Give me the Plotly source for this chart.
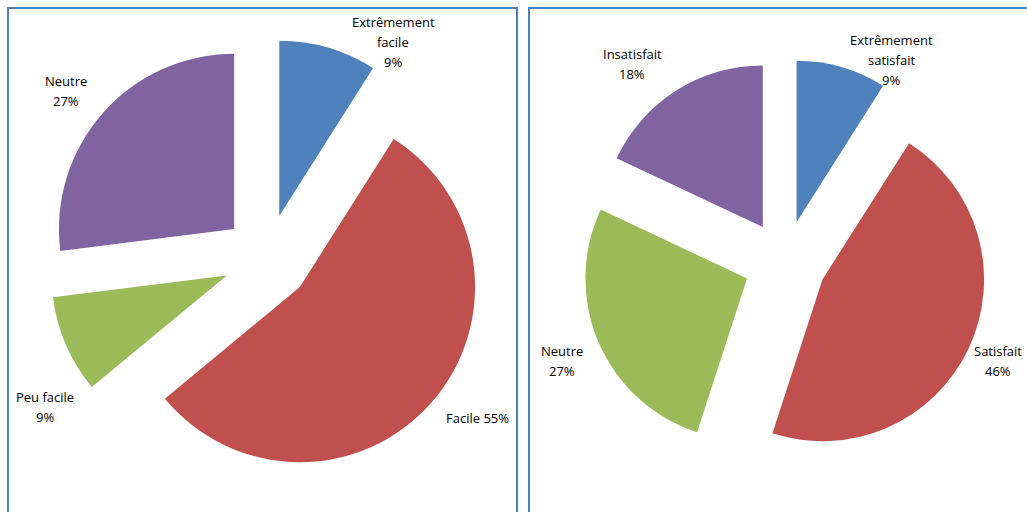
import plotly.graph_objects as go

W, H = 1027, 512
OFF = 0

# ---- data ----
left_labels = ["Extrêmement facile", "Facile", "Peu facile", "Neutre"]
left_values = [9, 55, 9, 27]
right_labels = ["Extrêmement satisfait", "Satisfait", "Neutre", "Insatisfait"]
right_values = [9, 46, 27, 18]
colors = ["#4F81BD", "#C0504D", "#9BBB59", "#8064A2"]

# label text lines (label words) and their pixel centres (first line)
left_label_lines = [["Extrêmement", "facile"], [], ["Peu facile"], ["Neutre"]]
right_label_lines = [["Extrêmement", "satisfait"], ["Satisfait"], ["Neutre"], ["Insatisfait"]]
left_label_pos = [(393, 22), (477, 418), (45, 397), (66, 81)]
right_label_pos = [(891, 40), (998, 351), (562, 351), (632, 54)]
LINE = 20


def px(x):
    return (x - OFF) / W


def py(y):
    return 1 - (y - OFF) / H


fig = go.Figure()
fig.add_trace(go.Pie(
    labels=left_labels, values=left_values, sort=False, direction="clockwise",
    rotation=0, pull=0.25, textinfo="none", hoverinfo="label+percent",
    marker=dict(colors=colors, line=dict(width=0)),
    domain=dict(x=[px(48), px(486)], y=[py(477), py(39)]),
    showlegend=False,
))
fig.add_trace(go.Pie(
    labels=right_labels, values=right_values, sort=False, direction="clockwise",
    rotation=0, pull=0.256, textinfo="none", hoverinfo="label+percent",
    marker=dict(colors=colors, line=dict(width=0)),
    domain=dict(x=[px(582), px(988)], y=[py(465), py(59)]),
    showlegend=False,
))

annotations = []
font = dict(family="Open Sans, DejaVu Sans, sans-serif", size=13, color="#000000")


def add_labels(lines_list, values, positions, labels):
    for lines, v, (x, y), lab in zip(lines_list, values, positions, labels):
        pct = f"{v}%"
        if not lines:  # single line "Label NN%"
            annotations.append(dict(x=px(x), y=py(y), xref="paper", yref="paper",
                                    text=f"{lab} {pct}", showarrow=False, font=font,
                                    xanchor="center", yanchor="middle"))
            continue
        for i, t in enumerate(lines + [pct]):
            annotations.append(dict(x=px(x), y=py(y + i * LINE), xref="paper", yref="paper",
                                    text=t, showarrow=False, font=font,
                                    xanchor="center", yanchor="middle"))


add_labels(left_label_lines, left_values, left_label_pos, left_labels)
add_labels(right_label_lines, right_values, right_label_pos, right_labels)

border = "#4F81BD"
shapes = [
    dict(type="rect", xref="paper", yref="paper", x0=px(8), x1=px(517), y0=py(540), y1=py(8),
         line=dict(color=border, width=2)),
    dict(type="rect", xref="paper", yref="paper", x0=px(529), x1=px(1060), y0=py(540), y1=py(8),
         line=dict(color=border, width=2)),
]

fig.update_layout(
    width=W, height=H, margin=dict(l=0, r=0, t=0, b=0),
    paper_bgcolor="white", plot_bgcolor="white",
    annotations=annotations, shapes=shapes,
)

fig.write_html(
    "out.html",
    config={"displayModeBar": False},
    post_script="document.body.style.margin='0px';document.body.style.overflow='hidden';",
)
